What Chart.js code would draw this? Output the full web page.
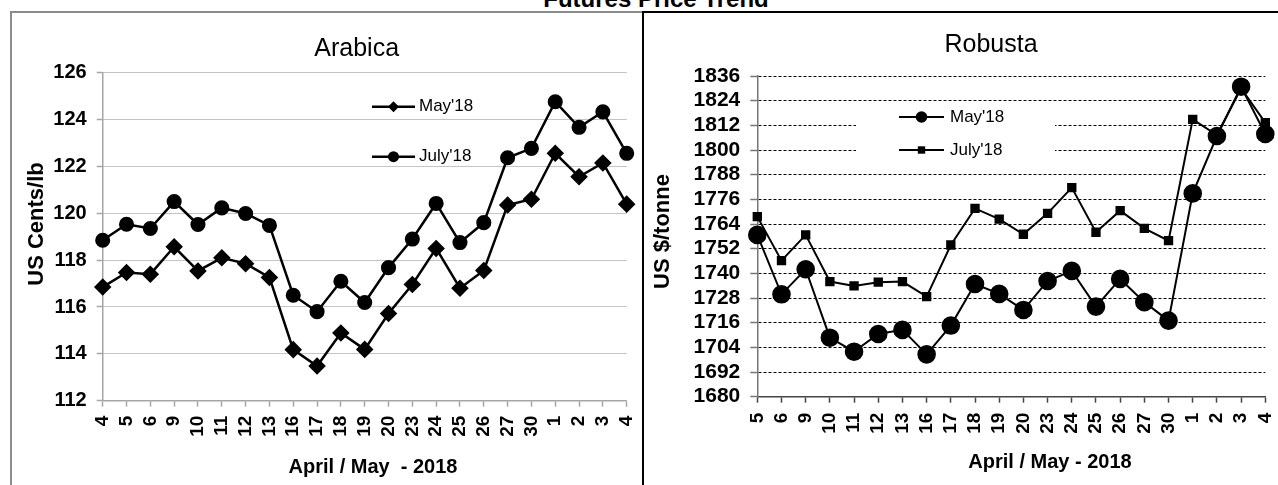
<!DOCTYPE html>
<html>
<head>
<meta charset="utf-8">
<script src="https://cdn.jsdelivr.net/npm/chart.js@4"></script>
<style>
  body { margin: 0; background: #fff; width: 1278px; height: 485px; overflow: hidden; position: relative; font-family: "Liberation Sans", Arial, sans-serif; }
  #mainTitle { position: absolute; left: 456px; top: -13px; width: 400px; text-align: center; font: bold 24px/24px "Liberation Sans", Arial, sans-serif; }
  #leftPanel { position: absolute; left: 10px; top: 11px; width: 630px; height: 500px; border-left: 2px solid #8c8c8c; border-top: 2px solid #8c8c8c; border-right: 2px solid #8c8c8c; }
  #rightPanel { position: absolute; left: 642px; top: 11px; width: 700px; height: 500px; border-left: 2px solid #000; border-top: 2px solid #000; }
  canvas { position: absolute; }
  #arabica { left: 12px; top: 13px; }
  #robusta { left: 645px; top: 13px; }
</style>
</head>
<body>
<div id="mainTitle">Futures Price Trend</div>
<div id="leftPanel"></div>
<div id="rightPanel"></div>
<canvas id="arabica" width="629" height="472"></canvas>
<canvas id="robusta" width="633" height="472"></canvas>
<script>
const arabicaDays = ["4", "5", "6", "9", "10", "11", "12", "13", "16", "17", "18", "19", "20", "23", "24", "25", "26", "27", "30", "1", "2", "3", "4"];
const arabicaMay = [116.85, 117.47, 117.4, 118.57, 117.54, 118.1, 117.85, 117.26, 114.18, 113.48, 114.89, 114.19, 115.72, 116.96, 118.5, 116.8, 117.56, 120.35, 120.6, 122.56, 121.56, 122.15, 120.39];
const arabicaJuly = [118.85, 119.53, 119.35, 120.5, 119.52, 120.23, 119.99, 119.48, 116.5, 115.8, 117.1, 116.19, 117.68, 118.9, 120.42, 118.75, 119.6, 122.37, 122.77, 124.76, 123.67, 124.33, 122.56];

const robustaDays = ["5", "6", "9", "10", "11", "12", "13", "16", "17", "18", "19", "20", "23", "24", "25", "26", "27", "30", "1", "2", "3", "4"];
const robustaMay = [1758.7, 1729.8, 1742, 1708.7, 1701.9, 1710.5, 1712.5, 1700.6, 1714.6, 1734.8, 1730, 1722.2, 1736.3, 1741.2, 1723.8, 1737.3, 1726, 1717, 1778.9, 1806.8, 1830.8, 1807.8];
const robustaJuly = [1767.6, 1746.2, 1758.7, 1736, 1733.9, 1735.7, 1736, 1728.7, 1753.8, 1771.6, 1766.4, 1759, 1769.2, 1781.7, 1760, 1770.5, 1761.9, 1755.9, 1814.9, 1807.3, 1830, 1813.3];

const FONT = '"Liberation Sans", Arial, sans-serif';

const drawMark = (ctx, style, r, x, y) => {
  ctx.beginPath();
  if (style === "circle") {
    ctx.arc(x, y, r, 0, Math.PI * 2);
  } else if (style === "rectRot") {
    ctx.moveTo(x, y - r);
    ctx.lineTo(x + r, y);
    ctx.lineTo(x, y + r);
    ctx.lineTo(x - r, y);
    ctx.closePath();
  } else {
    ctx.rect(x - r, y - r, 2 * r, 2 * r);
  }
  ctx.fill();
};

// titles of each panel, drawn at fixed spots
const panelText = {
  id: "panelText",
  afterDraw(chart, args, o) {
    const ctx = chart.ctx;
    ctx.save();
    ctx.fillStyle = "#000";
    ctx.textAlign = "center";
    ctx.textBaseline = "alphabetic";
    ctx.font = "25px " + FONT;
    ctx.fillText(o.title, o.titleX, o.titleY);
    ctx.font = "bold 20px " + FONT;
    ctx.fillText(o.xTitle, o.xTitleX, o.xTitleY);
    ctx.translate(o.yTitleX, o.yTitleY);
    ctx.rotate(-Math.PI / 2);
    ctx.font = "bold 22px " + FONT;
    ctx.textBaseline = "middle";
    ctx.fillText(o.yTitle, 0, 0);
    ctx.restore();
  },
};

// legend inside the plot
const innerLegend = {
  id: "innerLegend",
  afterDraw(chart, args, o) {
    const ctx = chart.ctx;
    ctx.save();
    if (o.box) {
      ctx.fillStyle = "#fff";
      ctx.fillRect(o.box[0], o.box[1], o.box[2], o.box[3]);
    }
    chart.data.datasets.forEach((ds, i) => {
      const y = o.ys[i];
      ctx.strokeStyle = "#000";
      ctx.lineWidth = ds.borderWidth;
      ctx.beginPath();
      ctx.moveTo(o.x1, y);
      ctx.lineTo(o.x2, y);
      ctx.stroke();
      ctx.fillStyle = "#000";
      drawMark(ctx, ds.pointStyle, o.markSize[i], (o.x1 + o.x2) / 2, y);
      ctx.font = "17px " + FONT;
      ctx.textAlign = "left";
      ctx.textBaseline = "middle";
      ctx.fillText(ds.label, o.textX, y);
    });
    ctx.restore();
  },
};

// fixed axis sizes so the plot area lands where the original has it
const fixX = (h) => (scale) => {
  scale.height = h;
  scale.paddingLeft = 0;
  scale.paddingRight = 0;
};
const fixY = (w) => (scale) => {
  scale.width = w;
};

new Chart(document.getElementById("arabica"), {
  type: "line",
  data: {
    labels: arabicaDays,
    datasets: [
      {
        label: "May'18",
        data: arabicaMay,
        borderColor: "#000",
        backgroundColor: "#000",
        borderWidth: 2.5,
        tension: 0,
        pointStyle: "rectRot",
        pointRadius: 7,
        pointBackgroundColor: "#000",
        pointBorderColor: "#000",
      },
      {
        label: "July'18",
        data: arabicaJuly,
        borderColor: "#000",
        backgroundColor: "#000",
        borderWidth: 2.5,
        tension: 0,
        pointStyle: "circle",
        pointRadius: 6.3,
        pointBackgroundColor: "#000",
        pointBorderColor: "#000",
      },
    ],
  },
  options: {
    responsive: false,
    animation: false,
    layout: { padding: { top: 59.7, right: 14.3, left: 0, bottom: 0 } },
    plugins: {
      legend: { display: false },
      tooltip: { enabled: false },
      panelText: {
        title: "Arabica",
        titleX: 344.7,
        titleY: 43,
        xTitle: "April / May  - 2018",
        xTitleX: 361,
        xTitleY: 460,
        yTitle: "US Cents/lb",
        yTitleX: 24.7,
        yTitleY: 211,
      },
      innerLegend: {
        x1: 360,
        x2: 403,
        textX: 407,
        ys: [93.7, 143.7],
        markSize: [5.5, 5.5],
      },
    },
    scales: {
      x: {
        afterFit: fixX(84.3),
        grid: { drawOnChartArea: false, drawTicks: true, tickLength: 6, tickColor: "#a6a6a6", tickWidth: 1.5 },
        border: { display: true, color: "#a6a6a6", width: 1.5 },
        ticks: { autoSkip: false, maxRotation: 90, minRotation: 90, padding: 9, color: "#000", font: { family: FONT, weight: "bold", size: 19 } },
      },
      y: {
        min: 112,
        max: 126,
        afterFit: fixY(90.7),
        grid: { color: "#8a8a8a", lineWidth: 1, drawTicks: true, tickLength: 6, tickColor: "#a6a6a6", tickWidth: 1.5, tickBorderDash: [] },
        border: { display: true, color: "#a6a6a6", width: 1.5, dash: [1, 1] },
        ticks: { stepSize: 2, autoSkip: false, padding: 10, color: "#000", font: { family: FONT, weight: "bold", size: 20 } },
      },
    },
  },
  plugins: [panelText, innerLegend],
});

new Chart(document.getElementById("robusta"), {
  type: "line",
  data: {
    labels: robustaDays,
    datasets: [
      {
        label: "May'18",
        data: robustaMay,
        borderColor: "#000",
        backgroundColor: "#000",
        borderWidth: 2,
        tension: 0,
        pointStyle: "circle",
        pointRadius: 8.3,
        pointBackgroundColor: "#000",
        pointBorderColor: "#000",
      },
      {
        label: "July'18",
        data: robustaJuly,
        borderColor: "#000",
        backgroundColor: "#000",
        borderWidth: 2,
        tension: 0,
        pointStyle: "rect",
        pointRadius: 5.2,
        pointBackgroundColor: "#000",
        pointBorderColor: "#000",
      },
    ],
  },
  options: {
    responsive: false,
    animation: false,
    layout: { padding: { top: 63, right: 12.7, left: 0, bottom: 0 } },
    plugins: {
      legend: { display: false },
      tooltip: { enabled: false },
      panelText: {
        title: "Robusta",
        titleX: 346,
        titleY: 39,
        xTitle: "April / May - 2018",
        xTitleX: 405,
        xTitleY: 455,
        yTitle: "US $/tonne",
        yTitleX: 18,
        yTitleY: 218.5,
      },
      innerLegend: {
        box: [211, 90, 199, 69],
        x1: 254,
        x2: 299,
        textX: 305,
        ys: [104, 137],
        markSize: [5.8, 3.7],
      },
    },
    scales: {
      x: {
        afterFit: fixX(88.3),
        grid: { drawOnChartArea: false, drawTicks: true, tickLength: 6, tickColor: "#444", tickWidth: 1.5 },
        border: { display: true, color: "#444", width: 1.5 },
        ticks: { autoSkip: false, maxRotation: 90, minRotation: 90, padding: 10, color: "#000", font: { family: FONT, weight: "bold", size: 19 } },
      },
      y: {
        min: 1680,
        max: 1836,
        afterFit: fixY(112.3),
        grid: { color: "#000", lineWidth: 1, drawTicks: true, tickLength: 7, tickColor: "#777", tickWidth: 1.5, tickBorderDash: [] },
        border: { display: true, color: "#777", width: 1.5, dash: [3, 2] },
        ticks: {
          stepSize: 12,
          autoSkip: false,
          padding: 10,
          color: "#000",
          font: { family: FONT, weight: "bold", size: 21 },
          callback: (v) => String(v),
        },
      },
    },
  },
  plugins: [panelText, innerLegend],
});
</script>
</body>
</html>
